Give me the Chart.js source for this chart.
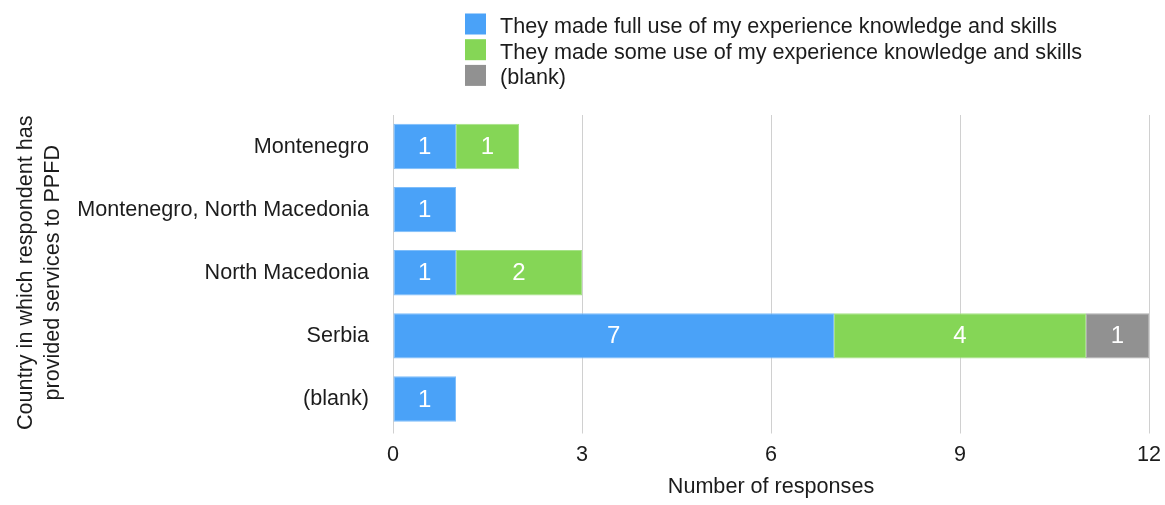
<!DOCTYPE html>
<html>
<head>
<meta charset="utf-8">
<title>Use of experience by country</title>
<script src="https://cdn.jsdelivr.net/npm/chart.js@4/dist/chart.umd.min.js"></script>
<style>
  html, body { margin: 0; padding: 0; background: #fff; }
  #wrap { width: 1165px; height: 505px; }
</style>
</head>
<body>
<div id="wrap"><canvas id="chart" width="1165" height="505"></canvas></div>
<script>
// categories and series
const countries = ['Montenegro', 'Montenegro, North Macedonia', 'North Macedonia', 'Serbia', '(blank)'];
const fullUse = [1, 1, 1, 7, 1];
const someUse = [1, null, 2, 4, null];
const blankUse = [null, null, null, 1, null];
const seriesNames = [
    'They made full use of my experience knowledge and skills',
    'They made some use of my experience knowledge and skills',
    '(blank)'
];
const xTicks = [0, 3, 6, 9, 12];

const FONT = '"Liberation Sans", Arial, Helvetica, sans-serif';
const TEXT = '#1c1c1c';

// white numbers in the middle of every bar segment
const barValues = {
    id: 'barValues',
    afterDatasetsDraw(chart) {
        const ctx = chart.ctx;
        ctx.save();
        ctx.fillStyle = '#ffffff';
        ctx.font = '24px ' + FONT;
        ctx.textAlign = 'center';
        ctx.textBaseline = 'middle';
        chart.data.datasets.forEach((ds, i) => {
            chart.getDatasetMeta(i).data.forEach((bar, j) => {
                const v = ds.data[j];
                if (v == null) return;
                const p = bar.getCenterPoint();
                ctx.fillText(String(v), p.x, p.y + 1);
            });
        });
        ctx.restore();
    }
};

// stacked legend in the top area
const stackedLegend = {
    id: 'stackedLegend',
    afterDraw(chart) {
        const ctx = chart.ctx;
        ctx.save();
        ctx.font = '21.6px ' + FONT;
        ctx.textBaseline = 'alphabetic';
        ctx.textAlign = 'left';
        chart.data.datasets.forEach((ds, i) => {
            const y = 13.5 + i * 25.7;
            ctx.fillStyle = ds.backgroundColor;
            ctx.fillRect(465, y, 21, 21);
            ctx.fillStyle = TEXT;
            ctx.fillText(ds.label, 500, y + 19.5);
        });
        ctx.restore();
    }
};

new Chart(document.getElementById('chart'), {
    type: 'bar',
    data: {
        labels: countries,
        datasets: [
            { label: seriesNames[0], data: fullUse, backgroundColor: '#4aa2f8', borderColor: '#7ebdfa' },
            { label: seriesNames[1], data: someUse, backgroundColor: '#85d656', borderColor: '#a6e287' },
            { label: seriesNames[2], data: blankUse, backgroundColor: '#919191', borderColor: '#b0b0b0' }
        ]
    },
    options: {
        indexAxis: 'y',
        responsive: false,
        animation: false,
        layout: { padding: { top: 115, right: 16, left: 0, bottom: 0 } },
        datasets: {
            bar: { barPercentage: 0.72, categoryPercentage: 1, borderWidth: 1, borderSkipped: false }
        },
        plugins: {
            legend: { display: false },
            tooltip: { enabled: false }
        },
        scales: {
            x: {
                stacked: true,
                min: 0,
                max: 12,
                afterBuildTicks(scale) {
                    scale.ticks = xTicks.map(v => ({ value: v }));
                },
                afterFit(scale) {
                    scale.height = 74.5;
                    scale.paddingLeft = 0;
                    scale.paddingRight = 0;
                },
                grid: { color: '#d0d0d0', lineWidth: 1, tickLength: 3, drawTicks: true },
                border: { display: false },
                ticks: { color: TEXT, font: { family: FONT, size: 21.6 }, padding: 9 },
                title: {
                    display: true,
                    text: 'Number of responses',
                    color: TEXT,
                    font: { family: FONT, size: 21.6 },
                    padding: { top: 0, bottom: 5 }
                }
            },
            y: {
                stacked: true,
                afterFit(scale) { scale.width = 393; },
                grid: { display: false, drawTicks: false },
                border: { display: false },
                ticks: { color: TEXT, font: { family: FONT, size: 21.6 }, padding: 24 },
                title: {
                    display: true,
                    text: ['Country in which respondent has', 'provided services to PPFD'],
                    color: TEXT,
                    font: { family: FONT, size: 21.6, lineHeight: 1.28 },
                    padding: { top: 12, bottom: 0 }
                }
            }
        }
    },
    plugins: [barValues, stackedLegend]
});
</script>
</body>
</html>
